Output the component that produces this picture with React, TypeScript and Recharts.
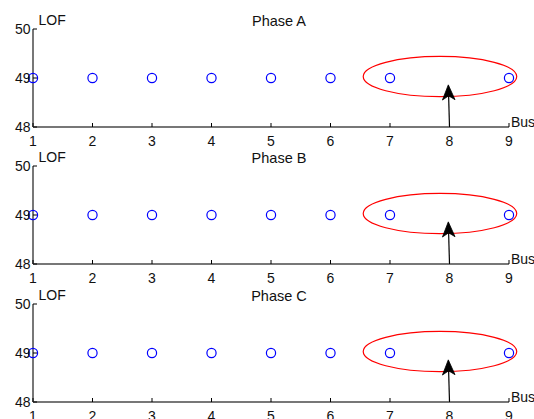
import React from 'react';
import { ScatterChart, Scatter, XAxis, YAxis, ReferenceArea, ReferenceLine } from 'recharts';

// ---- data ----
const buses = [1, 2, 3, 4, 5, 6, 7, 9];
const lofPhaseA = [49, 49, 49, 49, 49, 49, 49, 49];
const lofPhaseB = [49, 49, 49, 49, 49, 49, 49, 49];
const lofPhaseC = [49, 49, 49, 49, 49, 49, 49, 49];
const phaseTitles = ['Phase A', 'Phase B', 'Phase C'];
const xTicks = [1, 2, 3, 4, 5, 6, 7, 8, 9];
const yTicks = [48, 49, 50];
const faultBus = 8;
const arrowTopLof = 48.86;
const ellipseBus = [6.55, 9.13];
const ellipseLof = [48.62, 49.44];

const FONT = '"Liberation Sans", Arial, Helvetica, sans-serif';
const TXT = '#111';
const AXIS = '#777';
const FS = 14;

const XTick = (props: any) => {
  const { x, y, payload } = props;
  return (
    <g>
      <line x1={x} x2={x} y1={y} y2={y - 4} stroke="#000" strokeWidth={1} />
      <text x={x} y={y + 18.5} textAnchor="middle" fontSize={FS} fontFamily={FONT} fill={TXT}>
        {payload.value}
      </text>
    </g>
  );
};

const YTick = (props: any) => {
  const { x, y, payload } = props;
  return (
    <g>
      <line x1={x} x2={x + 4} y1={y} y2={y} stroke="#000" strokeWidth={1} />
      <text x={x - 2.5} y={y + 5} textAnchor="end" fontSize={FS} fontFamily={FONT} fill={TXT}>
        {payload.value}
      </text>
    </g>
  );
};

const CircleMark = (props: any) => (
  <circle cx={props.cx} cy={props.cy} r={4.6} fill="none" stroke="#0000ff" strokeWidth={1.2} />
);

const EllipseShape = (p: any) => (
  <ellipse
    cx={p.x + p.width / 2}
    cy={p.y + p.height / 2}
    rx={Math.abs(p.width) / 2}
    ry={Math.abs(p.height) / 2}
    fill="none"
    stroke="#ff0000"
    strokeWidth={1.2}
  />
);

const ArrowShape = (p: any) => {
  const { x1, y1, x2, y2 } = p;
  const dx = x2 - x1;
  const dy = y2 - y1;
  const len = Math.sqrt(dx * dx + dy * dy) || 1;
  const ux = dx / len;
  const uy = dy / len;
  const px = -uy;
  const py = ux;
  const L = 15;
  const W = 6.3;
  const N = 11;
  const bx = x2 - ux * L;
  const by = y2 - uy * L;
  const nx = x2 - ux * N;
  const ny = y2 - uy * N;
  const pts = [
    [x2, y2],
    [bx + px * W, by + py * W],
    [nx, ny],
    [bx - px * W, by - py * W],
  ]
    .map((q) => q.join(','))
    .join(' ');
  return (
    <g>
      <line x1={x1} y1={y1} x2={nx} y2={ny} stroke="#000" strokeWidth={1.2} />
      <polygon points={pts} fill="#000" stroke="#000" strokeWidth={0.8} />
    </g>
  );
};

const series = [lofPhaseA, lofPhaseB, lofPhaseC];
const plotTops = [29, 166, 304];

const Panel = ({ idx }: { idx: number }) => {
  const data = buses.map((b, i) => ({ bus: b, lof: series[idx][i] }));
  const H = 150;
  const plotH = 98;
  return (
    <div style={{ position: 'absolute', left: 0, top: plotTops[idx] - 29, width: 534, height: H }}>
      <ScatterChart width={534} height={H} margin={{ top: 29, left: 32, right: 25, bottom: H - 29 - plotH - 1 }}>
        <XAxis
          type="number"
          dataKey="bus"
          domain={[1, 9]}
          ticks={xTicks}
          height={1}
          tickSize={0}
          tickMargin={0}
          tickLine={false}
          tick={<XTick />}
          axisLine={{ stroke: AXIS, strokeWidth: 2 }}
          interval={0}
        />
        <YAxis
          type="number"
          dataKey="lof"
          domain={[48, 50]}
          ticks={yTicks}
          width={1}
          tickSize={0}
          tickMargin={0}
          tickLine={false}
          tick={<YTick />}
          axisLine={{ stroke: AXIS, strokeWidth: 2 }}
          interval={0}
        />
        <ReferenceArea
          x1={ellipseBus[0]}
          x2={ellipseBus[1]}
          y1={ellipseLof[0]}
          y2={ellipseLof[1]}
          ifOverflow="visible"
          shape={EllipseShape}
        />
        <ReferenceLine
          segment={[
            { x: faultBus, y: 48 },
            { x: faultBus - 0.02, y: arrowTopLof },
          ]}
          ifOverflow="visible"
          shape={ArrowShape}
        />
        <Scatter data={data} isAnimationActive={false} shape={CircleMark} />
        <text x={38.5} y={25} fontSize={FS} fontFamily={FONT} fill={TXT}>LOF</text>
        <text x={279} y={25.5} textAnchor="middle" fontSize={14.5} fontFamily={FONT} fill={TXT}>
          {phaseTitles[idx]}
        </text>
        <text x={511} y={29 + plotH} fontSize={FS} fontFamily={FONT} fill={TXT}>Bus</text>
      </ScatterChart>
    </div>
  );
}

export default function App() {
  return (
    <div
      style={{
        position: 'absolute',
        left: 0,
        top: 0,
        width: 534,
        height: 419,
        overflow: 'hidden',
        background: '#fff',
      }}
    >
      <Panel idx={0} />
      <Panel idx={1} />
      <Panel idx={2} />
    </div>
  );
}
